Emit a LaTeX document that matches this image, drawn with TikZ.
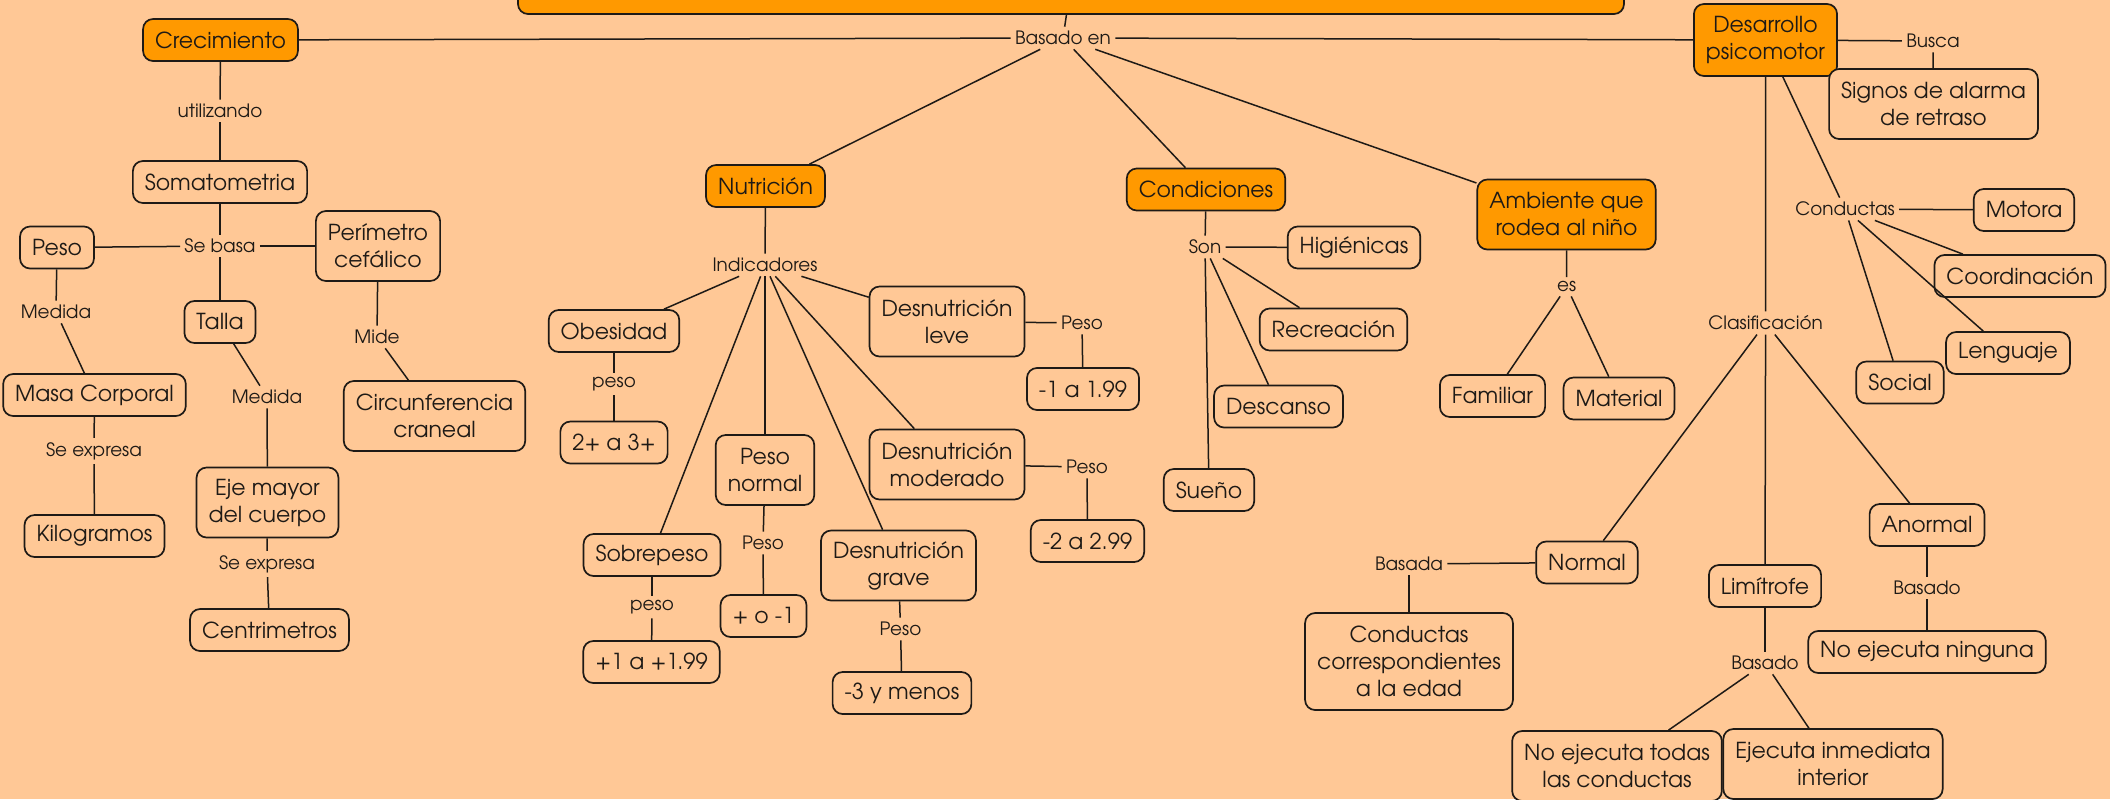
\documentclass[tikz,border=0pt]{standalone}
\usepackage{fontspec}
\setmainfont{texgyreadventor}[Extension=.otf, UprightFont=*-regular, BoldFont=*-bold]
\usepackage{xcolor}
\usepackage{tikz}
\usetikzlibrary{positioning,calc}

\definecolor{fondo}{HTML}{FFC896}
\definecolor{naranja}{HTML}{FF9900}
\definecolor{linea}{HTML}{1E1A16}

\tikzset{
  concepto/.style={draw=linea, fill=naranja, line width=0.85pt, rounded corners=5pt,
    align=center, inner xsep=6pt, inner ysep=2pt, minimum height=21pt,
    text=linea, font=\fontsize{11}{13.5}\selectfont},
  caja/.style={concepto, fill=fondo},
  dos/.style={minimum height=35pt},
  enlace/.style={inner sep=2pt, text=linea, font=\fontsize{9.2}{11}\selectfont},
  conector/.style={draw=linea, line width=0.75pt}
}

\begin{document}
\begin{tikzpicture}[x=0.5pt, y=-0.5pt]
    \useasboundingbox (0,0) rectangle (2110,799);
    \fill[fondo] (0,0) rectangle (2110,799);
    \clip (0,0) rectangle (2110,799);

    % Main concepts
    \node[concepto, minimum width=553pt, minimum height=30pt] (titulo) at (1071,-16) {};
    \node[concepto] (crec) at (220.5,40) {Crecimiento};
    \node[concepto] (nutri) at (765.5,186) {Nutrición};
    \node[concepto] (cond) at (1206,189.5) {Condiciones};
    \node[concepto, dos] (amb) at (1566.5,214.5) {Ambiente que\\rodea al niño};
    \node[concepto, minimum height=36pt] (psico) at (1765.5,40) {Desarrollo\\psicomotor};
    \node[enlace] (basado) at (1063,38) {Basado en};

    % Crecimiento
    \node[caja] (somat) at (220,182) {Somatometria};
    \node[caja] (peso) at (57,247.5) {Peso};
    \node[caja, dos] (perim) at (378,246) {Perímetro\\cefálico};
    \node[caja] (talla) at (220,322) {Talla};
    \node[caja] (masa) at (94.5,395) {Masa Corporal};
    \node[caja] (kilo) at (94.5,536) {Kilogramos};
    \node[caja, dos] (eje) at (267.5,502.5) {Eje mayor\\del cuerpo};
    \node[caja] (centri) at (269.5,630) {Centrimetros};
    \node[caja, dos] (circ) at (434.5,416) {Circunferencia\\craneal};
    \node[enlace] (utiliz) at (220,111) {utilizando};
    \node[enlace] (sebasa) at (220,246) {Se basa};
    \node[enlace] (medida1) at (56,312) {Medida};
    \node[enlace] (medida2) at (267,397) {Medida};
    \node[enlace] (mide) at (377,337) {Mide};
    \node[enlace] (seexp1) at (94,451) {Se expresa};
    \node[enlace] (seexp2) at (267,564) {Se expresa};

    % Nutricion
    \node[caja] (obes) at (614,331) {Obesidad};
    \node[caja] (obesv) at (614,442.5) {2+ a 3+};
    \node[caja] (sobre) at (652,555) {Sobrepeso};
    \node[caja] (sobrev) at (651.5,662) {+1 a +1.99};
    \node[caja, dos] (pnorm) at (765,470) {Peso\\normal};
    \node[caja] (pnormv) at (763.5,616) {+ o -1};
    \node[caja, dos] (leve) at (947,321.5) {Desnutrición\\leve};
    \node[caja] (levev) at (1083,389) {-1 a 1.99};
    \node[caja, dos] (moder) at (947,464.5) {Desnutrición\\moderado};
    \node[caja] (moderv) at (1087.5,541) {-2 a 2.99};
    \node[caja, dos] (grave) at (898.5,565.5) {Desnutrición\\grave};
    \node[caja] (gravev) at (902,693) {-3 y menos};
    \node[enlace] (indic) at (765,265) {Indicadores};
    \node[enlace] (pesoa) at (614,384) {peso};
    \node[enlace] (pesob) at (652,607) {peso};
    \node[enlace] (pesoc) at (763,543) {Peso};
    \node[enlace] (pesod) at (900.5,629) {Peso};
    \node[enlace] (pesoe) at (1082,323) {Peso};
    \node[enlace] (pesof) at (1087,467) {Peso};

    % Condiciones y ambiente
    \node[caja] (higi) at (1354,247.5) {Higiénicas};
    \node[caja] (recre) at (1333.5,329.5) {Recreación};
    \node[caja] (desc) at (1278.5,406.5) {Descanso};
    \node[caja] (sueno) at (1209,490) {Sueño};
    \node[caja] (fam) at (1492.5,396) {Familiar};
    \node[caja] (mat) at (1619,398.5) {Material};
    \node[enlace] (son) at (1205,247) {Son};
    \node[enlace] (es) at (1566.7,286.7) {es};

    % Desarrollo psicomotor
    \node[caja, dos] (signos) at (1933.5,104) {Signos de alarma\\de retraso};
    \node[caja] (motora) at (2024,210) {Motora};
    \node[caja] (coord) at (2020,276) {Coordinación};
    \node[caja] (lengua) at (2008,353) {Lenguaje};
    \node[caja] (social) at (1900,382.5) {Social};
    \node[caja] (normal) at (1587,562.5) {Normal};
    \node[caja, minimum height=48.5pt] (edad) at (1409,661.5) {Conductas\\correspondientes\\a la edad};
    \node[caja] (limi) at (1765,586) {Limítrofe};
    \node[caja, dos] (noejec) at (1617,766) {No ejecuta todas\\las conductas};
    \node[caja, dos] (ejec) at (1833,764) {Ejecuta inmediata\\interior};
    \node[caja] (anormal) at (1927,525) {Anormal};
    \node[caja] (ninguna) at (1927,652) {No ejecuta ninguna};
    \node[enlace] (busca) at (1933,41) {Busca};
    \node[enlace] (conduc) at (1845,209) {Conductas};
    \node[enlace] (clasif) at (1765.6,323) {Clasificación};
    \node[enlace] (basada) at (1409,564) {Basada};
    \node[enlace] (basado2) at (1765,663) {Basado};
    \node[enlace] (basado3) at (1927,588) {Basado};

    % Connectors
    \draw[conector] (titulo) -- (basado);
    \foreach \n in {crec,nutri,cond,amb,psico}
        \draw[conector] (basado) -- (\n);

    \draw[conector] (crec) -- (utiliz);
    \draw[conector] (utiliz) -- (somat);
    \draw[conector] (somat) -- (sebasa);
    \foreach \n in {peso,perim,talla}
        \draw[conector] (sebasa) -- (\n);
    \draw[conector] (peso) -- (medida1);
    \draw[conector] (medida1) -- (masa);
    \draw[conector] (masa) -- (seexp1);
    \draw[conector] (seexp1) -- (kilo);
    \draw[conector] (talla) -- (medida2);
    \draw[conector] (medida2) -- (eje);
    \draw[conector] (eje) -- (seexp2);
    \draw[conector] (seexp2) -- (centri);
    \draw[conector] (perim) -- (mide);
    \draw[conector] (mide) -- (circ);

    \draw[conector] (nutri) -- (indic);
    \foreach \n in {obes,sobre,pnorm,grave,moder,leve}
        \draw[conector] (indic) -- (\n);
    \draw[conector] (obes) -- (pesoa);
    \draw[conector] (pesoa) -- (obesv);
    \draw[conector] (sobre) -- (pesob);
    \draw[conector] (pesob) -- (sobrev);
    \draw[conector] (pnorm) -- (pesoc);
    \draw[conector] (pesoc) -- (pnormv);
    \draw[conector] (grave) -- (pesod);
    \draw[conector] (pesod) -- (gravev);
    \draw[conector] (leve) -- (pesoe);
    \draw[conector] (pesoe) -- (levev);
    \draw[conector] (moder) -- (pesof);
    \draw[conector] (pesof) -- (moderv);

    \draw[conector] (cond) -- (son);
    \foreach \n in {higi,recre,desc,sueno}
        \draw[conector] (son) -- (\n);
    \draw[conector] (amb) -- (es);
    \foreach \n in {fam,mat}
        \draw[conector] (es) -- (\n);

    \draw[conector] (psico) -- (busca);
    \draw[conector] (busca) -- (signos);
    \draw[conector] (psico) -- (conduc);
    \foreach \n in {motora,coord,lengua,social}
        \draw[conector] (conduc) -- (\n);
    \draw[conector] (psico) -- (clasif);
    \foreach \n in {normal,limi,anormal}
        \draw[conector] (clasif) -- (\n);
    \draw[conector] (normal) -- (basada);
    \draw[conector] (basada) -- (edad);
    \draw[conector] (limi) -- (basado2);
    \foreach \n in {noejec,ejec}
        \draw[conector] (basado2) -- (\n);
    \draw[conector] (anormal) -- (basado3);
    \draw[conector] (basado3) -- (ninguna);
\end{tikzpicture}
\end{document}
